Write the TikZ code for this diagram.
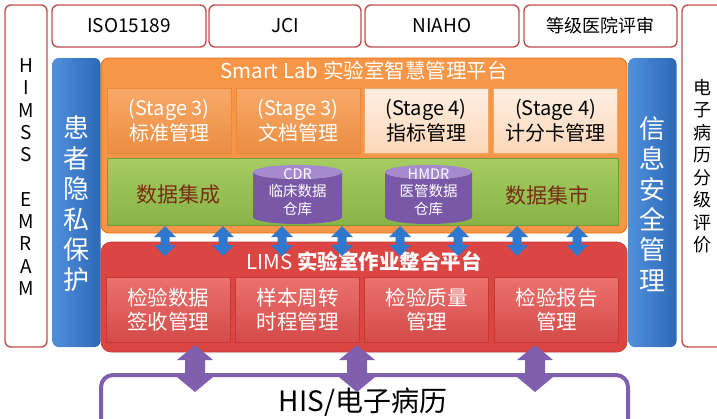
\documentclass[tikz,border=0pt]{standalone}
\usepackage{fontspec}
\setmainfont{Noto Sans CJK SC}
\definecolor{frameRed}{HTML}{C0504D}
\definecolor{orangeP}{HTML}{F79646}
\definecolor{orangeD}{HTML}{E36C0A}
\definecolor{blueL}{HTML}{4F90DC}
\definecolor{blueD}{HTML}{2D68B6}
\definecolor{arrowBlue}{HTML}{2F78CD}
\definecolor{greenT}{HTML}{A6CD62}
\definecolor{greenB}{HTML}{88B446}
\definecolor{greenText}{HTML}{782D14}
\definecolor{cylP}{HTML}{7A58A8}
\definecolor{cylTop}{HTML}{A68AD0}
\definecolor{redP}{HTML}{DB4542}
\definecolor{redD}{HTML}{C4383A}
\definecolor{redBT}{HTML}{EC716E}
\definecolor{redBB}{HTML}{D44B48}
\definecolor{purpleA}{HTML}{7F5FAE}
% vertical double arrow: #2 centre coordinate, #3 half length, #4 half head width, #5 half shaft width, #6 tip length
\newcommand{\vdblarrow}[6][]{%
  \fill[shift={(#2)},#1] (0,-#3) -- (#4,-#3+#6) -- (#5,-#3+#6) -- (#5,#3-#6) -- (#4,#3-#6) -- (0,#3)
     -- (-#4,#3-#6) -- (-#5,#3-#6) -- (-#5,-#3+#6) -- (-#4,-#3+#6) -- cycle;}
\begin{document}
\begin{tikzpicture}[x=1pt,y=-1pt,
  every node/.style={inner sep=0pt, outer sep=0pt},
  framebox/.style={draw=frameRed, line width=1.4pt, rounded corners=6pt, fill=white},
  toptext/.style={font=\fontsize{18}{22}\selectfont},
  bluebar/.style={left color=blueL, right color=blueD, rounded corners=6pt, minimum width=48, minimum height=289},
  bartext/.style={text=white, align=center, font=\fontsize{26}{30.4}\selectfont},
  stagedark/.style={top color=orangeP!82!white, bottom color=orangeP!95!black, draw=orangeD!80!white, line width=0.6pt,
     minimum width=124, minimum height=65, text=white, align=center, font=\fontsize{20}{25}\selectfont},
  stagelight/.style={top color=orangeP!15!white, bottom color=orangeP!38!white, draw=orangeD!60!white, line width=0.6pt,
     minimum width=124, minimum height=65, text=black, align=center, font=\fontsize{20}{25}\selectfont},
  greentext/.style={text=greenText, font=\fontsize{21}{25}\selectfont},
  cyltext/.style={text=white, align=center, font=\fontsize{14.5}{17.5}\selectfont},
  redbox/.style={top color=redBT, bottom color=redBB, draw=redD, line width=0.6pt,
     minimum width=124, minimum height=65, text=white, align=center, font=\fontsize{20.5}{23.5}\selectfont},
  smallarrow/.style={fill=arrowBlue},
  bigarrow/.style={fill=purpleA},
]
\clip (0,0) rectangle (717,418);

% side frames
\node[framebox, minimum width=42, minimum height=342] (himss) at (26,176) {};
\node[align=center, font=\fontsize{19}{22.3}\selectfont] (himsst) at (26,177) {H\\I\\M\\S\\S\\\mbox{}\\E\\M\\R\\A\\M};
\node[framebox, minimum width=60, minimum height=342] (emr) at (712,176) {};
\node[align=center, font=\fontsize{18}{22.5}\selectfont] (emrt) at (702,166) {电\\子\\病\\历\\分\\级\\评\\价};

% top standards
\node[framebox, toptext, minimum width=154, minimum height=42] (iso) at (129,26) {\fontsize{19}{22}\selectfont ISO15189};
\node[framebox, toptext, minimum width=152, minimum height=42] (jci) at (285,26) {\fontsize{19}{22}\selectfont JCI};
\node[framebox, toptext, minimum width=154, minimum height=42] (niaho) at (442,26) {\fontsize{19}{22}\selectfont NIAHO};
\node[framebox, toptext, minimum width=153, minimum height=42] (grade) at (600.5,26) {等级医院评审};

% blue bars
\node[bluebar] (privacy) at (76.5,202.5) {};
\node[bartext] (privacyt) at (76.5,204) {患\\者\\隐\\私\\保\\护};
\node[bluebar] (security) at (652.5,202.5) {};
\node[bartext] (securityt) at (652.5,204) {信\\息\\安\\全\\管\\理};

% Smart Lab platform
\node[fill=orangeP, draw=orangeD, line width=0.8pt, rounded corners=8pt, minimum width=526, minimum height=175] (smart) at (364,145.5) {};
\node[text=white, font=\fontsize{20.5}{22}\selectfont] (smartt) at (364,71) {Smart Lab 实验室智慧管理平台};
\node[stagedark] (s1) at (169,120.5) {(Stage 3)\\标准管理};
\node[stagedark] (s2) at (298,120.5) {(Stage 3)\\文档管理};
\node[stagelight] (s3) at (426,120.5) {(Stage 4)\\指标管理};
\node[stagelight] (s4) at (555.5,120.5) {(Stage 4)\\计分卡管理};

% data band
\node[top color=greenT, bottom color=greenB, draw=greenB!85!black, line width=0.5pt, minimum width=511, minimum height=67] (green) at (362.5,191.5) {};
\node[greentext] (integ) at (178,195) {数据集成};
\node[greentext] (mart) at (547,195) {数据集市};

% cylinders
\fill[cylP] (253,172) -- (253,217) arc[start angle=180, end angle=0, x radius=44.5, y radius=7] -- (342,172) arc[start angle=0, end angle=180, x radius=44.5, y radius=7] -- cycle;
\fill[cylTop] (297.5,172) ellipse [x radius=44.5, y radius=7];
\fill[cylP] (385,172) -- (385,217) arc[start angle=180, end angle=0, x radius=43.5, y radius=7] -- (472,172) arc[start angle=0, end angle=180, x radius=43.5, y radius=7] -- cycle;
\fill[cylTop] (428.5,172) ellipse [x radius=43.5, y radius=7];
\node[cyltext] (cdr) at (297.5,192) {CDR\\临床数据\\仓库};
\node[cyltext] (hmdr) at (428.5,192) {HMDR\\医管数据\\仓库};

% LIMS platform
\node[fill=redP, draw=redD, line width=0.6pt, rounded corners=10pt, minimum width=526, minimum height=110] (lims) at (364,297) {};
\node[text=white, font=\fontsize{20.5}{24}\selectfont] (limst) at (364,261) {LIMS \textbf{实验室作业整合平台}};
\node[redbox] (r1) at (168,309.5) {检验数据\\签收管理};
\node[redbox] (r2) at (297.5,309.5) {样本周转\\时程管理};
\node[redbox] (r3) at (426.5,309.5) {检验质量\\管理};
\node[redbox] (r4) at (556.5,309.5) {检验报告\\管理};

% small blue double arrows between the data band and LIMS
\foreach \i/\x in {1/165,2/223,3/282,4/342,5/400,6/458,7/517,8/577}{
  \coordinate (b\i) at (\x,241);
  \vdblarrow[smallarrow]{b\i}{15}{11}{4.5}{11}
}

% HIS box
\node[draw=purpleA, line width=4pt, rounded corners=12pt, fill=white, minimum width=527, minimum height=80] (his) at (364.5,415) {};
\node[font=\fontsize{28}{32}\selectfont] (hist) at (363,402) {HIS/电子病历};

% purple double arrows between LIMS and HIS
\foreach \i/\x in {1/195,2/357,3/535}{
  \coordinate (p\i) at (\x,368.5);
  \vdblarrow[bigarrow]{p\i}{23.5}{18}{10}{15}
}
\end{tikzpicture}
\end{document}
